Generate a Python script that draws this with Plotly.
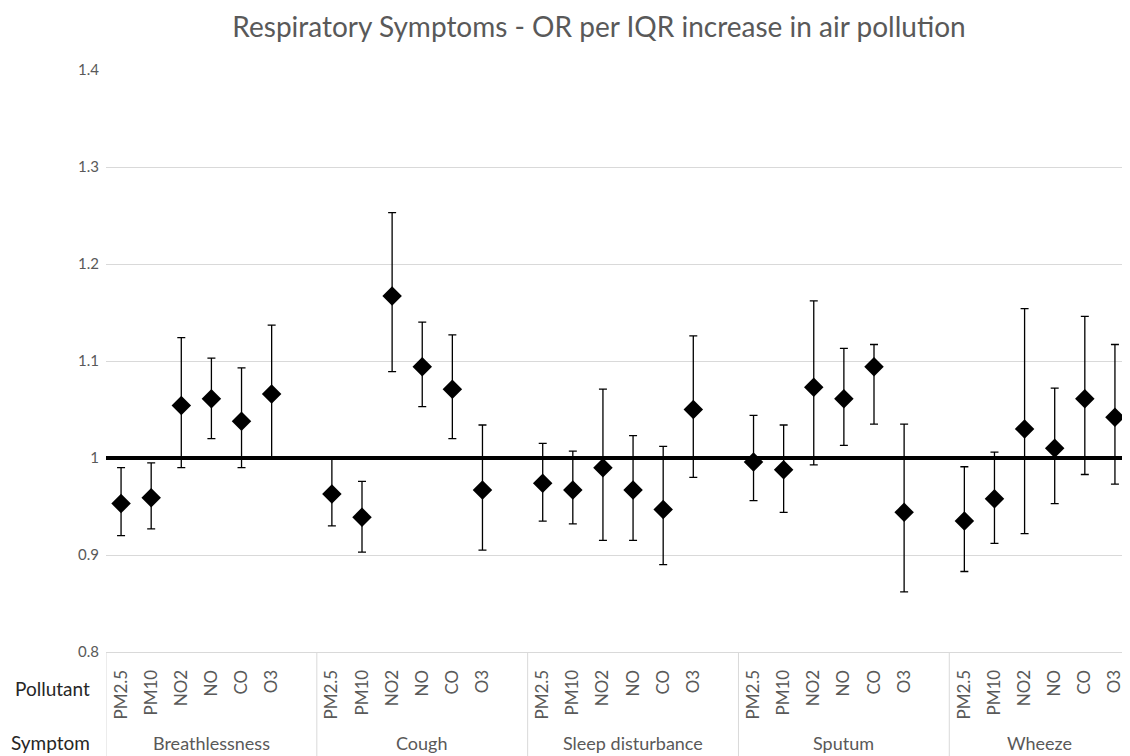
import plotly.graph_objects as go

symptoms = ["Breathlessness", "Cough", "Sleep disturbance", "Sputum", "Wheeze"]
pollutants = ["PM2.5", "PM10", "NO2", "NO", "CO", "O3"]

or_breathlessness = [0.953, 0.959, 1.054, 1.061, 1.038, 1.066]
or_cough = [0.963, 0.939, 1.167, 1.094, 1.071, 0.967]
or_sleep = [0.974, 0.967, 0.990, 0.967, 0.947, 1.050]
or_sputum = [0.996, 0.988, 1.073, 1.061, 1.094, 0.944]
or_wheeze = [0.935, 0.958, 1.030, 1.010, 1.061, 1.042]

lo_breathlessness = [0.920, 0.927, 0.990, 1.020, 0.990, 1.000]
lo_cough = [0.930, 0.903, 1.089, 1.053, 1.020, 0.905]
lo_sleep = [0.935, 0.932, 0.915, 0.915, 0.890, 0.980]
lo_sputum = [0.956, 0.944, 0.993, 1.013, 1.035, 0.862]
lo_wheeze = [0.883, 0.912, 0.922, 0.953, 0.983, 0.973]

hi_breathlessness = [0.990, 0.995, 1.124, 1.103, 1.093, 1.137]
hi_cough = [1.000, 0.976, 1.253, 1.140, 1.127, 1.034]
hi_sleep = [1.015, 1.007, 1.071, 1.023, 1.012, 1.126]
hi_sputum = [1.044, 1.034, 1.162, 1.113, 1.117, 1.035]
hi_wheeze = [0.991, 1.006, 1.154, 1.072, 1.146, 1.117]

y_ticks = [0.8, 0.9, 1.0, 1.1, 1.2, 1.3, 1.4]

ors = [or_breathlessness, or_cough, or_sleep, or_sputum, or_wheeze]
los = [lo_breathlessness, lo_cough, lo_sleep, lo_sputum, lo_wheeze]
his = [hi_breathlessness, hi_cough, hi_sleep, hi_sputum, hi_wheeze]

SLOTS = 7  # 6 pollutants + 1 empty slot per symptom group
xs, ys, up, dn, tv, tt = [], [], [], [], [], []
for g in range(len(symptoms)):
    for i, p in enumerate(pollutants):
        x = g * SLOTS + i
        xs.append(x)
        ys.append(ors[g][i])
        up.append(his[g][i] - ors[g][i])
        dn.append(ors[g][i] - los[g][i])
        tv.append(x)
        tt.append(p)

FONT = "Lato, 'Open Sans', sans-serif"
GRAY = "#595959"
GRID = "#d9d9d9"

# page body has an 8px margin: compensate so the plot sits where the reference has it
OFF = 8
W, H = 1130 - OFF, 756 - OFF
ML, MT, MB = 106 - OFF, 70 - OFF, 104
plot_h = H - MT - MB
plot_w = W - ML

fig = go.Figure()
fig.add_trace(go.Scatter(
    x=xs, y=ys, mode="markers",
    marker=dict(symbol="diamond", size=15, color="black"),
    error_y=dict(type="data", symmetric=False, array=up, arrayminus=dn,
                 color="black", thickness=1.3, width=4),
    showlegend=False,
))

x_max = (len(symptoms) - 1) * SLOTS + len(pollutants) - 0.5
fig.update_xaxes(
    range=[-0.5, x_max], tickvals=tv, ticktext=tt, tickangle=-90,
    showgrid=False, zeroline=False, showline=True, linecolor=GRID, linewidth=1,
    ticks="", ticklabelstandoff=10,
    tickfont=dict(family=FONT, size=17, color=GRAY),
)
fig.update_yaxes(
    range=[0.8, 1.4], tickvals=y_ticks, showgrid=True, gridcolor=GRID, gridwidth=1,
    zeroline=False, showline=False, ticks="", ticklabelstandoff=6,
    tickfont=dict(family=FONT, size=15, color=GRAY),
)

shapes = [dict(type="line", xref="paper", x0=0, x1=1, yref="y", y0=1.0, y1=1.0,
               line=dict(color="black", width=4), layer="above")]
for g in range(len(symptoms)):
    xb = g * SLOTS - 0.5
    shapes.append(dict(type="line", xref="x", x0=xb, x1=xb, yref="paper",
                       y0=0, y1=-MB / plot_h, line=dict(color=GRID, width=1)))

annotations = []
for g, s in enumerate(symptoms):
    left = g * SLOTS - 0.5
    right = min(left + SLOTS, x_max)
    annotations.append(dict(text=s, x=(left + right) / 2, xref="x",
                            y=(652 - 743) / plot_h, yref="paper", showarrow=False,
                            xanchor="center", yanchor="middle",
                            font=dict(family=FONT, size=18, color=GRAY)))
annotations.append(dict(text="Pollutant", x=(92 - 106) / plot_w, xref="paper",
                        y=(652 - 688) / plot_h, yref="paper", showarrow=False,
                        xanchor="right", yanchor="middle",
                        font=dict(family=FONT, size=19, color="#262626")))
annotations.append(dict(text="Symptom", x=(92 - 106) / plot_w, xref="paper",
                        y=(652 - 743) / plot_h, yref="paper", showarrow=False,
                        xanchor="right", yanchor="middle",
                        font=dict(family=FONT, size=19, color="#262626")))

fig.update_layout(
    width=W, height=H,
    margin=dict(l=ML, r=0, t=MT, b=MB),
    paper_bgcolor="white", plot_bgcolor="white",
    title=dict(text="Respiratory Symptoms - OR per IQR increase in air pollution",
               x=(599 - OFF) / W, xanchor="center", y=1 - (27 - OFF) / H, yanchor="middle",
               font=dict(family=FONT, size=28, color=GRAY)),
    shapes=shapes, annotations=annotations,
)

fig.write_html("out.html")
